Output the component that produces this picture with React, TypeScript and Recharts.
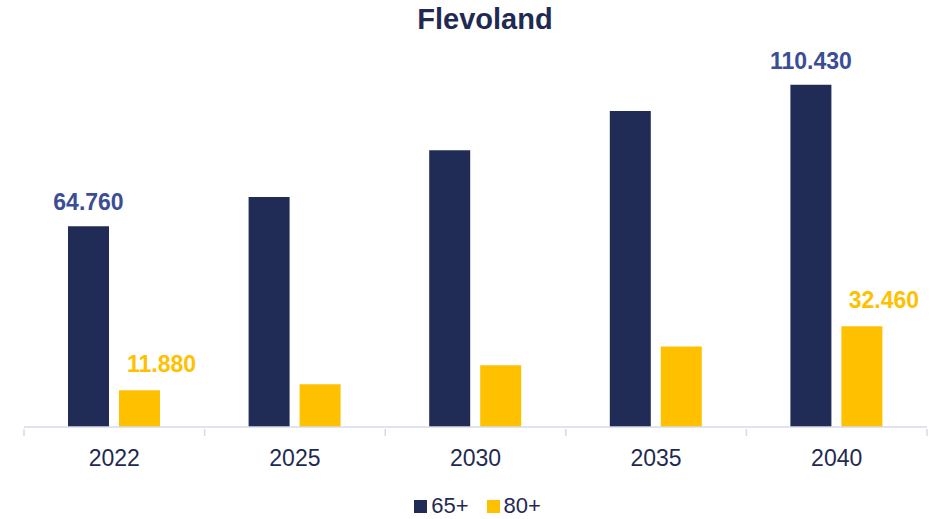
import React from 'react'
import { BarChart, Bar, XAxis, YAxis, Legend, LabelList } from 'recharts'

const years = ['2022', '2025', '2030', '2035', '2040']
const age65 = [64760, 74200, 89250, 101900, 110430]
const age80 = [11880, 13800, 19900, 26000, 32460]
const labels65 = ['64.760', '', '', '', '110.430']
const labels80 = ['11.880', '', '', '', '32.460']

const NAVY = '#202C55'
const YELLOW = '#FFC000'
const TEXT = '#1F2A52'
const LABEL_BLUE = '#3A4D96'
const FONT = '"Liberation Sans", Arial, sans-serif'

const W = 930
const H = 519
const MARGIN = { top: 55, right: 3, left: 24, bottom: 0 }
const BAND = (W - MARGIN.left - MARGIN.right) / years.length

const data = years.map((y, i) => ({
  year: y,
  a65: age65[i],
  a80: age80[i],
  l65: labels65[i],
  l80: labels80[i],
}))

function YearTick(props: any) {
  const { x, y, payload, index } = props
  const left = x - BAND / 2
  const right = x + BAND / 2
  return (
    <g>
      <line x1={left} y1={y} x2={left} y2={y + 7} stroke="#D5DBE8" strokeWidth={1.5} />
      {index === years.length - 1 && (
        <line x1={right} y1={y} x2={right} y2={y + 7} stroke="#D5DBE8" strokeWidth={1.5} />
      )}
      <text
        x={x}
        y={y + 29}
        textAnchor="middle"
        dominantBaseline="central"
        fontFamily={FONT}
        fontSize={23}
        fill={TEXT}
      >
        {payload.value}
      </text>
    </g>
  )
}

function makeLabel(color: string, dx: number, dy: number) {
  return (props: any) => {
    const { x, y, width, value } = props
    if (!value) return null
    return (
      <text
        x={x + width / 2 + dx}
        y={y - dy}
        textAnchor="middle"
        dominantBaseline="central"
        fontFamily={FONT}
        fontWeight="bold"
        fontSize={23}
        fill={color}
      >
        {value}
      </text>
    )
  }
}

function LegendBox() {
  const item = (color: string, name: string) => (
    <span style={{ display: 'inline-flex', alignItems: 'center', marginRight: 18, height: 20 }}>
      <span style={{ width: 13, height: 13, background: color, display: 'inline-block', marginRight: 4 }} />
      <span style={{ fontSize: 22, lineHeight: '20px', color: TEXT, fontFamily: FONT }}>{name}</span>
    </span>
  )
  return (
    <div style={{ height: 50, paddingTop: 27, boxSizing: 'border-box', textAlign: 'center', paddingLeft: 22, lineHeight: '20px' }}>
      {item(NAVY, '65+')}
      {item(YELLOW, '80+')}
    </div>
  )
}

export default function App() {
  return (
    <div style={{ position: 'absolute', left: 0, top: 0, width: W, height: H, background: '#fff' }}>
      <div
        style={{
          position: 'absolute',
          top: 3,
          left: 0,
          width: W,
          textAlign: 'center',
          fontFamily: FONT,
          fontWeight: 'bold',
          fontSize: 29,
          lineHeight: '32px',
          color: TEXT,
          paddingLeft: 40,
          boxSizing: 'border-box',
        }}
      >
        Flevoland
      </div>
      <BarChart width={W} height={H} data={data} margin={MARGIN} barSize={41} barGap={10}>
        <XAxis
          dataKey="year"
          axisLine={{ stroke: '#D5DBE8', strokeWidth: 1.5 }}
          tickLine={false}
          tickSize={0}
          height={42}
          tick={<YearTick />}
          interval={0}
        />
        <YAxis hide domain={[0, 120000]} />
        <Legend verticalAlign="bottom" height={50} content={<LegendBox />} />
        <Bar dataKey="a65" name="65+" fill={NAVY} isAnimationActive={false}>
          <LabelList dataKey="l65" content={makeLabel(LABEL_BLUE, 0, 24)} />
        </Bar>
        <Bar dataKey="a80" name="80+" fill={YELLOW} isAnimationActive={false}>
          <LabelList dataKey="l80" content={makeLabel(YELLOW, 22, 26)} />
        </Bar>
      </BarChart>
    </div>
  )
}
